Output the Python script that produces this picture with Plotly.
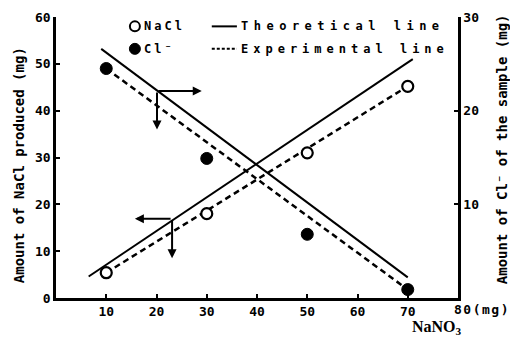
import plotly.graph_objects as go

# NaNO3 added (mg)
nano3 = [10, 30, 50, 70]
# NaCl produced (mg), left axis
nacl_found = [5.4, 18.0, 31.0, 45.2]
# Cl- remaining in the sample (mg), right axis
cl_found = [24.5, 14.9, 6.8, 0.9]

# theoretical lines (end points)
nacl_theory_x = [6.5, 71.0]
nacl_theory_y = [4.6, 51.0]
cl_theory_x = [9.0, 70.0]
cl_theory_y = [26.6, 2.2]

# experimental (fitted) lines
nacl_exp_x = [10, 70]
nacl_exp_y = [5.4, 45.2]
cl_exp_x = [10, 70]
cl_exp_y = [24.5, 0.9]

x_ticks = [10, 20, 30, 40, 50, 60, 70]
y_ticks = [0, 10, 20, 30, 40, 50, 60]
y2_ticks = [10, 20, 30]

MONO = "DejaVu Sans Mono"
INK = "black"

fig = go.Figure()

fig.add_trace(go.Scatter(x=nacl_theory_x, y=nacl_theory_y, mode="lines",
                         line=dict(color=INK, width=2), yaxis="y"))
fig.add_trace(go.Scatter(x=nacl_exp_x, y=nacl_exp_y, mode="lines",
                         line=dict(color=INK, width=2.5, dash="6px,4px"), yaxis="y"))
fig.add_trace(go.Scatter(x=cl_theory_x, y=cl_theory_y, mode="lines",
                         line=dict(color=INK, width=2), yaxis="y2"))
fig.add_trace(go.Scatter(x=cl_exp_x, y=cl_exp_y, mode="lines",
                         line=dict(color=INK, width=2.5, dash="6px,4px"), yaxis="y2"))
fig.add_trace(go.Scatter(x=nano3, y=nacl_found, mode="markers", yaxis="y",
                         marker=dict(symbol="circle", size=11, color="white",
                                     line=dict(color=INK, width=2.2))))
fig.add_trace(go.Scatter(x=nano3, y=cl_found, mode="markers", yaxis="y2",
                         marker=dict(symbol="circle", size=12, color=INK,
                                     line=dict(color=INK, width=1))))

axis_common = dict(showgrid=False, zeroline=False, showline=True, linecolor=INK,
                   linewidth=2.5, ticks="inside", ticklen=4, tickwidth=2,
                   tickcolor=INK, tickfont=dict(family=MONO, size=13, color=INK,
                                                weight="bold"))

fig.update_layout(
    width=510, height=340,
    margin=dict(l=56, r=52, t=10, b=42),
    paper_bgcolor="white", plot_bgcolor="white",
    showlegend=False,
    font=dict(family=MONO, color=INK, weight="bold"),
    xaxis=dict(range=[0, 80], tickvals=x_ticks, ticktext=[str(v) for v in x_ticks],
               **axis_common),
    yaxis=dict(range=[0, 60], tickvals=y_ticks, ticktext=[str(v) for v in y_ticks],
               **axis_common),
    yaxis2=dict(range=[0, 30], tickvals=y2_ticks, ticktext=[str(v) for v in y2_ticks],
                overlaying="y", side="right", **axis_common),
)

ann = []
# axis titles
ann.append(dict(text="Amount of NaCl produced (mg)", xref="paper", yref="paper",
                x=-0.09, y=0.472, xanchor="center", yanchor="middle",
                textangle=-90, showarrow=False,
                font=dict(family=MONO, size=14, weight="bold")))
ann.append(dict(text="Amount of Cl\u207b of the sample (mg)", xref="paper", yref="paper",
                x=1.108, y=0.531, xanchor="center", yanchor="middle",
                textangle=-90, showarrow=False,
                font=dict(family=MONO, size=14, weight="bold")))
ann.append(dict(text="NaNO<sub>3</sub>", xref="paper", yref="paper",
                x=0.948, y=-0.104, xanchor="center", yanchor="middle", showarrow=False,
                font=dict(family="Liberation Serif", size=16, weight="bold")))
ann.append(dict(text="80(mg)", xref="x", yref="paper", x=78.8, y=-0.042,
                xanchor="left", yanchor="middle", showarrow=False,
                font=dict(family=MONO, size=13, weight="bold")))

# legend texts
leg_rows = [58.0, 53.2]
leg_font = dict(family=MONO, size=12, weight="bold")
ann.append(dict(text="NaCl", x=17.1, y=leg_rows[0], xref="x", yref="y",
                xanchor="left", yanchor="middle", showarrow=False, font=leg_font))
ann.append(dict(text="Cl\u207b", x=17.1, y=leg_rows[1], xref="x", yref="y",
                xanchor="left", yanchor="middle", showarrow=False, font=leg_font))
ann.append(dict(text="Theoretical line", x=36.4, y=leg_rows[0], xref="x", yref="y",
                xanchor="left", yanchor="middle", showarrow=False, font=leg_font))
ann.append(dict(text="Experimental line", x=36.4, y=leg_rows[1], xref="x", yref="y",
                xanchor="left", yanchor="middle", showarrow=False, font=leg_font))

# arrows pointing each line to its axis
arrows = [
    ((20.1, 44.2), (29.0, 44.2)),
    ((20.1, 44.2), (20.1, 36.0)),
    ((23.1, 16.9), (15.7, 16.9)),
    ((23.1, 16.9), (23.1, 8.5)),
]
for (cx, cy), (hx, hy) in arrows:
    ann.append(dict(x=hx, y=hy, ax=cx, ay=cy, xref="x", yref="y", axref="x", ayref="y",
                    text="", showarrow=True, arrowhead=2, arrowsize=0.9,
                    arrowwidth=2, arrowcolor=INK))
fig.update_layout(annotations=ann)

# legend symbols
shapes = [
    dict(type="circle", xref="x", yref="y", xsizemode="pixel", ysizemode="pixel",
         xanchor=15.7, yanchor=leg_rows[0], x0=-5, x1=5, y0=-5, y1=5,
         line=dict(color=INK, width=2), fillcolor="white"),
    dict(type="circle", xref="x", yref="y", xsizemode="pixel", ysizemode="pixel",
         xanchor=15.7, yanchor=leg_rows[1], x0=-5.5, x1=5.5, y0=-5.5, y1=5.5,
         line=dict(color=INK, width=1), fillcolor=INK),
    dict(type="line", xref="x", yref="y", x0=31.0, x1=36.0, y0=leg_rows[0], y1=leg_rows[0],
         line=dict(color=INK, width=2)),
    dict(type="line", xref="x", yref="y", x0=31.0, x1=36.0, y0=leg_rows[1], y1=leg_rows[1],
         line=dict(color=INK, width=2, dash="3px,2px")),
]
fig.update_layout(shapes=shapes)

# widen the letter spacing of the typewriter-style labels, keeping their left edge fixed
spacing_js = """
var spacing = {"Theoretical line": 5.5, "Experimental line": 5.0, "NaCl": 3,
               "Cl\\u207b": 3, "80(mg)": 1.5};
var gd = document.getElementById('{plot_id}');
gd.querySelectorAll('text.annotation-text').forEach(function(t){
    var s = spacing[t.textContent];
    if (!s) { return; }
    var left = t.getBBox().x;
    t.style.textAnchor = 'start';
    t.setAttribute('text-anchor', 'start');
    t.setAttribute('x', left);
    t.style.letterSpacing = s + 'px';
});
"""

fig.write_html("out.html", post_script=spacing_js)
